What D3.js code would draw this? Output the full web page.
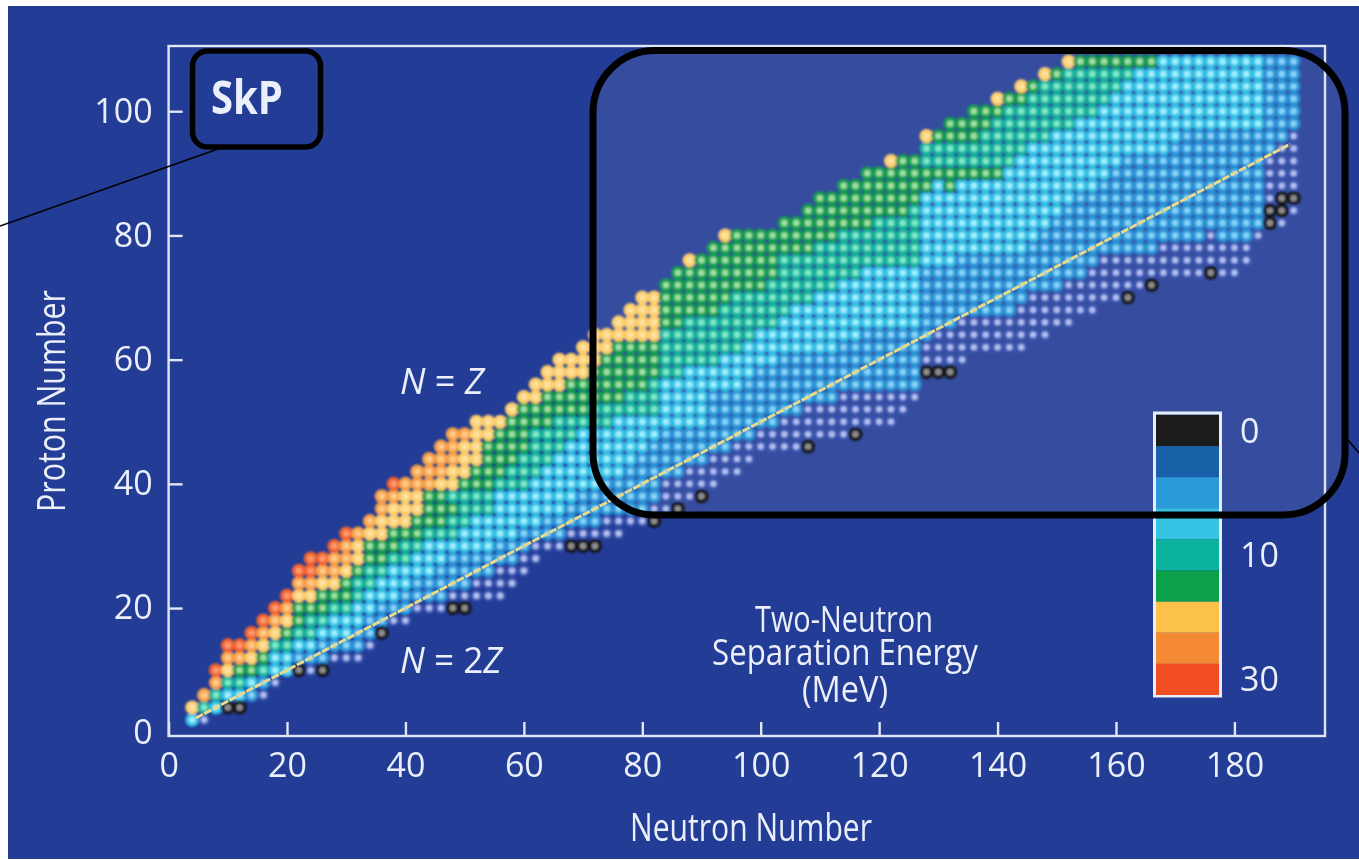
<!DOCTYPE html>
<html>
<head>
<meta charset="utf-8">
<script src="https://cdn.jsdelivr.net/npm/d3@7"></script>
<style>
  html, body { margin: 0; padding: 0; background: #fff; }
  svg { display: block; }
  text { font-family: "Open Sans", Roboto, sans-serif; fill: #eaeff9; filter: url(#softText); }
</style>
</head>
<body>
<svg id="chart" width="1359" height="860"></svg>
<script>
// legend order, top to bottom
const bandNames = ["black", "darkBlue", "blue", "cyan", "teal", "green", "yellow", "orange", "red"]
const legendColors = ["#1c1c1c", "#1860a8", "#2a9ad8", "#35c2e3", "#0bb39f", "#0aa14a", "#fdc24c", "#f58a34", "#f04e22"]
const dotHalos = ["#14141c", "#3f5cb4", "#2a93d6", "#35bfe4", "#14b09c", "#129c52", "#fccd6c", "#f8a04a", "#f2632f"]
const dotCores = ["#8f8f8f", "#b4c0f2", "#86d4f8", "#9ef0ff", "#7eeaca", "#9fe0a4", "#ffe2a0", "#ffcc8a", "#ff9a70"]
const legendLabels = [["black", "0"], ["teal", "10"], ["red", "30"]]

const xTicks = [0, 20, 40, 60, 80, 100, 120, 140, 160, 180]
const yTicks = [0, 20, 40, 60, 80, 100]

// each row: Z, first N, then the last N of the red, orange, yellow, green, teal, cyan, blue, darkBlue runs
const nuclideRows = [
    [2, 4, 2, 2, 2, 2, 2, 4, 4, 6],
    [4, 4, 2, 2, 4, 4, 6, 8, 8, 8],
    [6, 6, 4, 6, 6, 6, 8, 12, 14, 16],
    [8, 8, 6, 8, 8, 8, 12, 14, 16, 18],
    [10, 8, 8, 8, 10, 14, 16, 20, 20, 24],
    [12, 10, 8, 12, 14, 16, 16, 20, 26, 32],
    [14, 10, 12, 14, 16, 16, 20, 24, 32, 34],
    [16, 14, 14, 16, 18, 20, 24, 30, 34, 34],
    [18, 16, 16, 18, 20, 22, 26, 32, 36, 40],
    [20, 18, 18, 20, 20, 26, 30, 34, 40, 46],
    [22, 20, 20, 20, 24, 30, 32, 38, 46, 56],
    [24, 22, 20, 24, 28, 30, 34, 40, 50, 58],
    [26, 22, 24, 28, 30, 32, 36, 44, 54, 60],
    [28, 24, 26, 30, 32, 36, 40, 46, 58, 62],
    [30, 28, 28, 30, 32, 38, 42, 54, 60, 66],
    [32, 30, 30, 32, 36, 42, 48, 58, 66, 76],
    [34, 34, 32, 34, 40, 46, 50, 62, 72, 80],
    [36, 36, 34, 36, 42, 48, 54, 66, 80, 84],
    [38, 36, 34, 38, 42, 46, 54, 68, 82, 88],
    [40, 38, 38, 44, 48, 54, 60, 72, 82, 92],
    [42, 42, 40, 46, 50, 56, 62, 76, 86, 96],
    [44, 44, 42, 48, 52, 58, 64, 78, 90, 98],
    [46, 46, 44, 48, 52, 60, 66, 80, 94, 106],
    [48, 48, 46, 50, 54, 60, 68, 82, 98, 114],
    [50, 52, 50, 50, 56, 64, 74, 90, 102, 122],
    [52, 58, 56, 56, 58, 70, 82, 90, 106, 124],
    [54, 60, 58, 58, 62, 76, 82, 90, 112, 126],
    [56, 62, 60, 60, 66, 80, 82, 96, 126, 126],
    [58, 64, 62, 62, 70, 82, 86, 98, 126, 126],
    [60, 66, 64, 64, 72, 82, 92, 102, 126, 134],
    [62, 70, 68, 68, 74, 82, 96, 112, 126, 144],
    [64, 72, 70, 70, 82, 82, 98, 116, 128, 148],
    [66, 76, 74, 74, 82, 86, 102, 126, 132, 152],
    [68, 78, 76, 76, 82, 92, 104, 126, 142, 156],
    [70, 80, 78, 78, 82, 94, 108, 126, 144, 160],
    [72, 84, 82, 82, 82, 100, 112, 126, 150, 164],
    [74, 86, 84, 84, 84, 102, 116, 126, 154, 180],
    [76, 88, 86, 86, 88, 102, 126, 132, 156, 182],
    [78, 92, 90, 90, 90, 108, 126, 144, 166, 182],
    [80, 94, 92, 92, 94, 112, 126, 146, 182, 184],
    [82, 104, 102, 102, 102, 118, 126, 148, 184, 188],
    [84, 108, 106, 106, 106, 124, 126, 150, 184, 190],
    [86, 110, 108, 108, 108, 126, 126, 152, 184, 190],
    [88, 114, 112, 112, 112, 128, 128, 156, 184, 190],
    [90, 118, 116, 116, 116, 140, 140, 158, 184, 190],
    [92, 122, 120, 120, 122, 126, 142, 160, 184, 190],
    [94, 128, 126, 126, 126, 126, 144, 168, 186, 190],
    [96, 128, 126, 126, 128, 136, 148, 170, 188, 190],
    [98, 132, 130, 130, 130, 138, 152, 184, 190, 190],
    [100, 136, 134, 134, 134, 140, 156, 184, 190, 190],
    [102, 140, 138, 138, 140, 144, 158, 184, 190, 190],
    [104, 144, 142, 142, 144, 146, 160, 184, 190, 190],
    [106, 148, 146, 146, 148, 150, 162, 184, 190, 190],
    [108, 152, 150, 150, 152, 166, 166, 184, 190, 190]
]
// cells that break their row's run
const patchCells = [[176, 80, "darkBlue"], [132, 88, "green"]]
// [N, Z] of the nuclei on the drip line
const zeroCells = [[10, 4], [12, 4], [22, 10], [26, 10], [36, 16], [48, 20], [50, 20], [68, 30], [70, 30], [72, 30],
    [82, 34], [86, 36], [90, 38], [108, 46], [116, 48], [128, 58], [130, 58], [132, 58], [162, 70], [166, 72],
    [176, 74], [186, 82], [186, 84], [188, 84], [188, 86], [190, 86]]
const twoZLine = [[4.6, 2.3], [189.4, 94.7]]

const svg = d3.select("#chart")

const x = d3.scaleLinear().domain([0, 195.3]).range([168.6, 1325])
const y = d3.scaleLinear().domain([-0.6, 110.5]).range([736, 46])
const legendY = d3.scaleBand().domain(bandNames).range([415, 695])
const halo = d3.scaleOrdinal().domain(bandNames).range(dotHalos)
const core = d3.scaleOrdinal().domain(bandNames).range(dotCores)
const legendColor = d3.scaleOrdinal().domain(bandNames).range(legendColors)

const defs = svg.append("defs")
defs.append("filter").attr("id", "soft").attr("x", "-5%").attr("y", "-5%").attr("width", "110%").attr("height", "110%")
    .append("feGaussianBlur").attr("stdDeviation", 1.2)
defs.append("filter").attr("id", "softLine").attr("filterUnits", "userSpaceOnUse")
    .attr("x", 0).attr("y", 0).attr("width", 1359).attr("height", 860)
    .append("feGaussianBlur").attr("stdDeviation", 0.5)
defs.append("filter").attr("id", "softText")
    .append("feGaussianBlur").attr("stdDeviation", 0.45)

// blue page panel and the lighter inset
svg.append("rect").attr("x", 8).attr("y", 6).attr("width", 1351).attr("height", 853).attr("fill", "#233c96")
svg.append("rect").attr("x", 593).attr("y", 50.5).attr("width", 752).attr("height", 464.5).attr("rx", 62)
    .attr("fill", "#fff").attr("fill-opacity", 0.09)

// plot frame
svg.append("rect").attr("x", x(0)).attr("y", y(110.5)).attr("width", x(195.3) - x(0)).attr("height", y(-0.6) - y(110.5))
    .attr("fill", "none").attr("stroke", "#dfe6f5").attr("stroke-width", 2.4)

const xAxis = d3.axisBottom(x).tickValues(xTicks).tickSize(-14).tickSizeOuter(0).tickPadding(17).tickFormat(d3.format("d"))
const yAxis = d3.axisLeft(y).tickValues(yTicks).tickSize(-14).tickSizeOuter(0).tickPadding(16).tickFormat(d3.format("d"))

const axisX = svg.append("g").attr("transform", `translate(0,${y(-0.6)})`).call(xAxis)
const axisY = svg.append("g").attr("transform", `translate(${x(0)},0)`).call(yAxis)
svg.selectAll(".domain").style("display", "none")
svg.selectAll(".tick line").attr("stroke", "#dfe6f5").attr("stroke-width", 2.4)
// no tick mark at 0 on the proton axis, only its label
axisY.selectAll(".tick line").filter(d => d === 0).style("display", "none")
svg.selectAll(".tick text").style("font-size", "34px").style("font-family", "\"Open Sans\", Roboto, sans-serif").attr("fill", "#eaeff9")

// dots
const cells = []
const rowBands = ["red", "orange", "yellow", "green", "teal", "cyan", "blue", "darkBlue"]
nuclideRows.forEach(row => {
    let n = row[1]
    rowBands.forEach((band, i) => {
        while (n <= row[i + 2]) {
            cells.push({ n, z: row[0], band })
            n += 2
        }
    })
})
patchCells.forEach(p => {
    const c = cells.find(d => d.n === p[0] && d.z === p[1])
    if (c) c.band = p[2]
})
zeroCells.forEach(p => {
    const c = cells.find(d => d.n === p[0] && d.z === p[1])
    if (c) c.band = "black"
    else cells.push({ n: p[0], z: p[1], band: "black" })
})

const dots = svg.append("g").attr("filter", "url(#soft)")
dots.selectAll("circle.halo")
    .data(cells.filter(d => d.band !== "black"))
    .enter().append("circle")
    .attr("class", "halo")
    .attr("cx", d => x(d.n))
    .attr("cy", d => y(d.z))
    .attr("r", d => d.band === "darkBlue" ? 5.6 : 7)
    .attr("fill", d => halo(d.band))
dots.selectAll("circle.black")
    .data(cells.filter(d => d.band === "black"))
    .enter().append("circle")
    .attr("class", "black")
    .attr("cx", d => x(d.n))
    .attr("cy", d => y(d.z))
    .attr("r", 7)
    .attr("fill", halo("black"))
dots.selectAll("circle.core")
    .data(cells)
    .enter().append("circle")
    .attr("class", "core")
    .attr("cx", d => x(d.n))
    .attr("cy", d => y(d.z))
    .attr("r", d => d.band === "darkBlue" ? 3 : 3.2)
    .attr("fill", d => core(d.band))

// N = 2Z line
svg.append("path")
    .datum(twoZLine)
    .attr("d", d3.line().x(d => x(d[0])).y(d => y(d[1])))
    .attr("fill", "none").attr("stroke", "#e8d98f").attr("stroke-width", 3).attr("stroke-dasharray", "8 1.5")
    .attr("filter", "url(#softLine)")

// legend
svg.append("rect").attr("x", 1154.5).attr("y", 413).attr("width", 66).attr("height", 283)
    .attr("fill", "none").attr("stroke", "#e8edf8").attr("stroke-width", 3)
svg.selectAll("rect.band")
    .data(bandNames)
    .enter().append("rect")
    .attr("class", "band")
    .attr("x", 1156).attr("width", 63)
    .attr("y", d => legendY(d))
    .attr("height", legendY.bandwidth())
    .attr("fill", d => legendColor(d))
svg.selectAll("text.legend")
    .data(legendLabels)
    .enter().append("text")
    .attr("class", "legend")
    .attr("x", 1240)
    .attr("y", d => legendY(d[0]) + legendY.bandwidth() / 2 + 12)
    .style("font-size", "34px")
    .text(d => d[1])

function label(px, py, str, len, size, opts) {
    opts = opts || {}
    return svg.append("text")
        .attr("x", px).attr("y", py)
        .attr("text-anchor", "middle")
        .attr("textLength", len).attr("lengthAdjust", "spacingAndGlyphs")
        .attr("transform", opts.rotate ? `rotate(${opts.rotate},${px},${py})` : null)
        .style("font-size", size + "px")
        .style("font-weight", opts.weight || "normal")
        .text(str)
}

label(751, 841, "Neutron Number", 242, 39)
label(65, 401, "Proton Number", 222, 38, { rotate: -90 })
label(844, 632, "Two-Neutron", 178, 37)
label(845, 665, "Separation Energy", 266, 37)
label(845, 702, "(MeV)", 86, 36)
label(247, 114, "SkP", 72, 47, { weight: "bold" })

function relation(px, py, a, b, len) {
    const t = svg.append("text").attr("x", px).attr("y", py).attr("text-anchor", "middle")
        .attr("textLength", len).attr("lengthAdjust", "spacingAndGlyphs")
        .style("font-size", "36px")
    t.append("tspan").style("font-style", "italic").text("N")
    t.append("tspan").text(a)
    t.append("tspan").style("font-style", "italic").text(b)
}
relation(442, 394, " = ", "Z", 84)
relation(451, 673, " = 2", "Z", 102)

// black outlines and callouts
svg.append("rect").attr("x", 593).attr("y", 50.5).attr("width", 752).attr("height", 464.5).attr("rx", 62)
    .attr("fill", "none").attr("stroke", "#000").attr("stroke-width", 7)
svg.append("rect").attr("x", 192.5).attr("y", 51).attr("width", 128).attr("height", 96).attr("rx", 15)
    .attr("fill", "none").attr("stroke", "#000").attr("stroke-width", 5.5)
svg.append("line").attr("x1", 218).attr("y1", 149).attr("x2", 0).attr("y2", 226).attr("stroke", "#000").attr("stroke-width", 1.5)
svg.append("line").attr("x1", 1348).attr("y1", 440).attr("x2", 1359).attr("y2", 453).attr("stroke", "#000").attr("stroke-width", 1.5)
</script>
</body>
</html>
